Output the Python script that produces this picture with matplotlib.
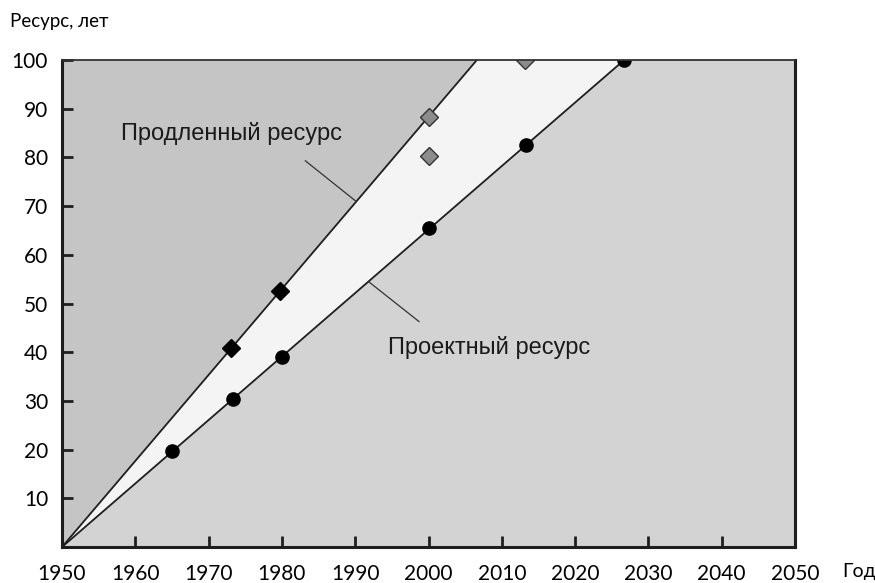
import matplotlib
matplotlib.use("Agg")
import matplotlib.pyplot as plt
from matplotlib.ticker import FixedLocator

# Data
ext_line_x = [1950, 2006.6]
ext_line_y = [0, 100]
des_line_x = [1950, 2026.7]
des_line_y = [0, 100]

des_pts_x = [1965, 1973.3, 1980, 2000, 2013.3, 2026.7]
des_pts_y = [19.7, 30.3, 39.0, 65.6, 82.6, 99.9]

ext_black_x = [1973, 1979.8]
ext_black_y = [40.9, 52.6]
ext_gray_x = [2000, 2000, 2013.2]
ext_gray_y = [88.2, 80.3, 100]

x_ticks = [1950, 1960, 1970, 1980, 1990, 2000, 2010, 2020, 2030, 2040, 2050]
y_ticks = [10, 20, 30, 40, 50, 60, 70, 80, 90, 100]

label_ext = "Продленный ресурс"
label_des = "Проектный ресурс"

c_upper = "#c5c5c5"
c_mid = "#f4f4f4"
c_lower = "#d3d3d3"
c_line = "#1e1e1e"

fig = plt.figure(figsize=(8.75, 5.83), dpi=100)
ax = fig.add_axes([62/875, 36/583, (795-62)/875, (547-60)/583])
ax.set_xlim(1950, 2050)
ax.set_ylim(0, 100)
ax.set_facecolor(c_lower)

# regions
ax.fill([ext_line_x[0], ext_line_x[1], ext_line_x[0]],
        [ext_line_y[0], ext_line_y[1], ext_line_y[1]], color=c_upper, lw=0, zorder=1)
ax.fill([ext_line_x[0], ext_line_x[1], des_line_x[1]],
        [ext_line_y[0], ext_line_y[1], des_line_y[1]], color=c_mid, lw=0, zorder=1)

ax.plot(ext_line_x, ext_line_y, color=c_line, lw=1.3, zorder=2)
ax.plot(des_line_x, des_line_y, color=c_line, lw=1.3, zorder=2)

ax.plot(des_pts_x, des_pts_y, 'o', color='black', ms=9.5, zorder=3)
ax.plot(ext_black_x, ext_black_y, 'D', color='black', ms=9, zorder=3)
ax.plot(ext_gray_x, ext_gray_y, 'D', mfc='#8c8c8c', mec='#333333', mew=1.0, ms=9, zorder=3)

# leader lines & labels
ax.plot([1983.2, 1990.1], [79.3, 71.0], color='#333333', lw=0.9, zorder=2)
ax.plot([1991.9, 1998.7], [54.4, 46.3], color='#333333', lw=0.9, zorder=2)
ax.text(1958.1, 84.9, label_ext, fontsize=17, family=["Liberation Sans", "DejaVu Sans"],
        color='#1a1a1a', ha='left', va='center', zorder=4)
ax.text(1994.5, 41.0, label_des, fontsize=17, family=["Liberation Sans", "DejaVu Sans"],
        color='#1a1a1a', ha='left', va='center', zorder=4)

ax.xaxis.set_major_locator(FixedLocator(x_ticks))
ax.yaxis.set_major_locator(FixedLocator(y_ticks))
ax.set_xticklabels([str(v) for v in x_ticks])
ax.set_yticklabels([str(v) for v in y_ticks])
for lab in ax.get_xticklabels() + ax.get_yticklabels():
    lab.set_family(["Lato", "DejaVu Sans"])
    lab.set_fontsize(15)
    lab.set_color('black')
ax.tick_params(axis='both', direction='in', length=8, width=2, color=c_line)
ax.tick_params(axis='x', pad=12)
ax.tick_params(axis='y', pad=10)

for s in ['left', 'bottom', 'right']:
    ax.spines[s].set_linewidth(2.2)
    ax.spines[s].set_color(c_line)
ax.spines['top'].set_linewidth(1.3)
ax.spines['top'].set_color('#333333')
for s in ax.spines.values():
    s.set_zorder(5)

fig.text(10/875, 1 - 22/583, "Ресурс, лет", fontsize=13.5, family=["Lato", "DejaVu Sans"],
         ha='left', va='center')
fig.text(842/875, 1 - 572/583, "Год", fontsize=14, family=["Lato", "DejaVu Sans"],
         ha='left', va='center')

fig.savefig("out.png", dpi=100)
